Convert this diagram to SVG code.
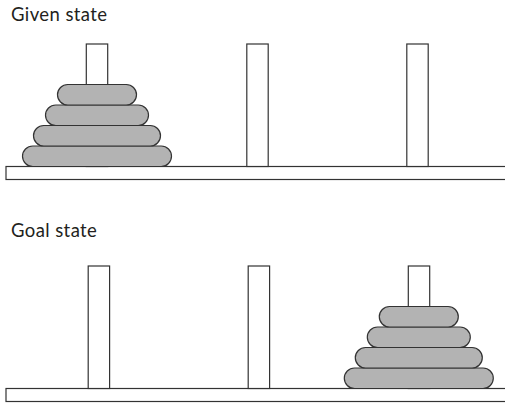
<svg xmlns="http://www.w3.org/2000/svg" width="505" height="403" viewBox="0 0 505 403">
  <style>
    .label { font-family: "Lato", "Open Sans", sans-serif; font-size: 18.5px; letter-spacing: 0.4px; fill: #231f20; }
    .base, .peg { fill: #ffffff; stroke: #333333; stroke-width: 1.2; }
    .disk { fill: #b3b3b3; stroke: #333333; stroke-width: 1.2; }
  </style>
  <rect width="505" height="403" fill="#ffffff"/>

  <!-- Given state -->
  <g id="given">
    <text class="label" x="11" y="21">Given state</text>
    <rect class="base" x="6" y="166.5" width="505" height="13"/>
    <g id="given-peg-1">
      <rect class="peg" x="86.3" y="44" width="21.4" height="122.5"/>
      <rect class="disk" x="22.5" y="146" width="149" height="20.5" rx="10.25"/>
      <rect class="disk" x="33.5" y="125.5" width="127" height="20.5" rx="10.25"/>
      <rect class="disk" x="45.5" y="105" width="103" height="20.5" rx="10.25"/>
      <rect class="disk" x="57.5" y="84.5" width="79" height="20.5" rx="10.25"/>
    </g>
    <g id="given-peg-2">
      <rect class="peg" x="246.8" y="44" width="21.4" height="122.5"/>
    </g>
    <g id="given-peg-3">
      <rect class="peg" x="406.8" y="44" width="21.4" height="122.5"/>
    </g>
  </g>

  <!-- Goal state -->
  <g id="goal">
    <text class="label" x="11" y="237">Goal state</text>
    <rect class="base" x="6" y="388.5" width="505" height="13"/>
    <g id="goal-peg-1">
      <rect class="peg" x="88.2" y="266" width="21.4" height="122.5"/>
    </g>
    <g id="goal-peg-2">
      <rect class="peg" x="248.2" y="266" width="21.4" height="122.5"/>
    </g>
    <g id="goal-peg-3">
      <rect class="peg" x="408.3" y="266" width="21.4" height="122.5"/>
      <rect class="disk" x="344.3" y="368" width="149" height="20.5" rx="10.25"/>
      <rect class="disk" x="355.3" y="347.5" width="127" height="20.5" rx="10.25"/>
      <rect class="disk" x="367.3" y="327" width="103" height="20.5" rx="10.25"/>
      <rect class="disk" x="379.3" y="306.5" width="79" height="20.5" rx="10.25"/>
    </g>
  </g>
</svg>
